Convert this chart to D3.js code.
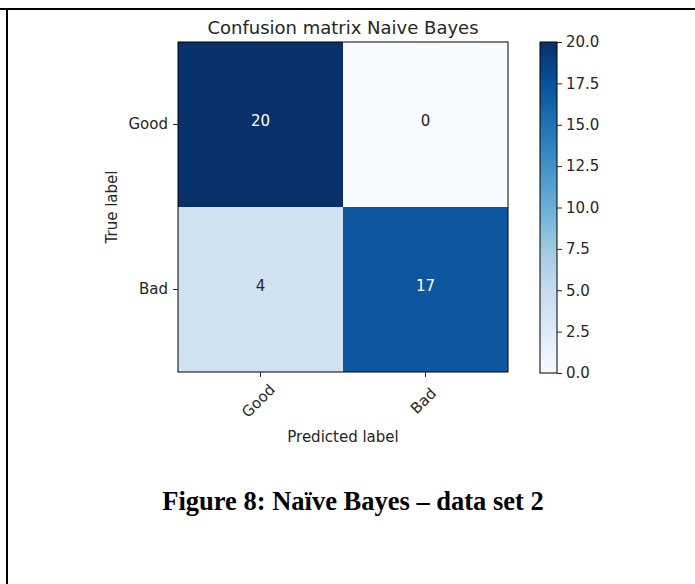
<!DOCTYPE html>
<html>
<head>
<meta charset="utf-8">
<script src="https://cdn.jsdelivr.net/npm/d3@7"></script>
<style>
  html, body { margin: 0; padding: 0; background: #fff; }
  svg { display: block; }
</style>
</head>
<body>
<svg id="chart" width="695" height="584"></svg>
<script>
// Confusion matrix values (rows = true label, columns = predicted label)
const classes = ["Good", "Bad"];
const matrixGood = [20, 0];
const matrixBad = [4, 17];
const colorbarTicks = [0, 2.5, 5, 7.5, 10, 12.5, 15, 17.5, 20];
const chartTitle = "Confusion matrix Naive Bayes";
const caption = "Figure 8: Naïve Bayes – data set 2";

const matrix = [matrixGood, matrixBad];
const cells = [];
matrix.forEach((row, i) => row.forEach((v, j) => cells.push({ row: classes[i], col: classes[j], value: v })));

const svg = d3.select("#chart");
const W = 695, H = 584;

// page frame (top rule and left rule)
svg.append("line").attr("x1", 0).attr("x2", W).attr("y1", 9).attr("y2", 9)
  .attr("stroke", "#000").attr("stroke-width", 2);
svg.append("line").attr("x1", 7).attr("x2", 7).attr("y1", 8).attr("y2", H)
  .attr("stroke", "#000").attr("stroke-width", 2);

const plot = { left: 178, top: 42, size: 330 };
const fontSans = "'DejaVu Sans', sans-serif";
const textCol = "#262626";

// matplotlib "Blues": linear segments through the ColorBrewer stops
const bluesStops = ["#f7fbff","#deebf7","#c6dbef","#9ecae1","#6baed6","#4292c6","#2171b5","#08519c","#08306b"];
const vmax = d3.max(cells, d => d.value);
const color = d3.scaleLinear()
  .domain(bluesStops.map((_, i) => vmax * i / (bluesStops.length - 1)))
  .range(bluesStops)
  .interpolate(d3.interpolateRgb);

const x = d3.scaleBand().domain(classes).range([plot.left, plot.left + plot.size]);
const y = d3.scaleBand().domain(classes).range([plot.top, plot.top + plot.size]);

const g = svg.append("g");

g.selectAll("rect.cell").data(cells).join("rect")
  .attr("class", "cell")
  .attr("x", d => x(d.col)).attr("y", d => y(d.row))
  .attr("width", x.bandwidth()).attr("height", y.bandwidth())
  .attr("fill", d => color(d.value));

const thresh = vmax / 2;
g.selectAll("text.val").data(cells).join("text")
  .attr("class", "val")
  .attr("x", d => x(d.col) + x.bandwidth() / 2)
  .attr("y", d => y(d.row) + y.bandwidth() / 2 - 4)
  .attr("text-anchor", "middle").attr("dominant-baseline", "central")
  .attr("font-family", fontSans).attr("font-size", 15)
  .attr("fill", d => d.value > thresh ? "#fff" : textCol)
  .text(d => d.value);

// frame around the matrix
g.append("rect").attr("x", plot.left).attr("y", plot.top)
  .attr("width", plot.size).attr("height", plot.size)
  .attr("fill", "none").attr("stroke", "#000").attr("stroke-width", 1);

// y axis
const yAxis = g.append("g").attr("transform", `translate(${plot.left},0)`)
  .call(d3.axisLeft(y).tickSize(5).tickPadding(5));
yAxis.select(".domain").remove();
yAxis.selectAll("text").attr("font-family", fontSans).attr("font-size", 15).attr("fill", textCol);
yAxis.selectAll("line").attr("stroke", textCol);

// x axis with rotated labels
const xAxis = g.append("g").attr("transform", `translate(0,${plot.top + plot.size})`)
  .call(d3.axisBottom(x).tickSize(5).tickPadding(0));
xAxis.select(".domain").remove();
xAxis.selectAll("line").attr("stroke", textCol);
xAxis.selectAll("text")
  .attr("font-family", fontSans).attr("font-size", 15).attr("fill", textCol)
  .attr("text-anchor", "middle").attr("dy", null).attr("y", null)
  .attr("dominant-baseline", "central")
  .attr("transform", "translate(-2,29) rotate(-45)");

// axis titles
svg.append("text").attr("x", plot.left + plot.size / 2).attr("y", 34)
  .attr("text-anchor", "middle").attr("font-family", fontSans).attr("font-size", 18)
  .attr("fill", textCol).text(chartTitle);
svg.append("text").attr("x", plot.left + plot.size / 2).attr("y", 442)
  .attr("text-anchor", "middle").attr("font-family", fontSans).attr("font-size", 15)
  .attr("fill", textCol).text("Predicted label");
svg.append("text").attr("transform", `translate(117,${plot.top + plot.size / 2}) rotate(-90)`)
  .attr("text-anchor", "middle").attr("font-family", fontSans).attr("font-size", 15)
  .attr("fill", textCol).text("True label");

// colorbar
const cb = { left: 540, width: 17, top: 42, bottom: 373 };
const cbScale = d3.scaleLinear().domain([0, vmax]).range([cb.bottom, cb.top]);
const defs = svg.append("defs");
const grad = defs.append("linearGradient").attr("id", "cbgrad")
  .attr("x1", 0).attr("y1", 1).attr("x2", 0).attr("y2", 0);
bluesStops.forEach((c, i) => grad.append("stop")
  .attr("offset", i / (bluesStops.length - 1)).attr("stop-color", c));
svg.append("rect").attr("x", cb.left).attr("y", cb.top)
  .attr("width", cb.width).attr("height", cb.bottom - cb.top)
  .attr("fill", "url(#cbgrad)").attr("stroke", "#000").attr("stroke-width", 1);
const cbAxis = svg.append("g").attr("transform", `translate(${cb.left + cb.width},0)`)
  .call(d3.axisRight(cbScale).tickValues(colorbarTicks).tickFormat(d3.format(".1f")).tickSize(5).tickPadding(4));
cbAxis.select(".domain").remove();
cbAxis.selectAll("line").attr("stroke", textCol);
cbAxis.selectAll("text").attr("font-family", fontSans).attr("font-size", 15).attr("fill", textCol);

// figure caption
svg.append("text").attr("x", 353).attr("y", 510)
  .attr("text-anchor", "middle").attr("font-family", "'Liberation Serif', 'Times New Roman', serif")
  .attr("font-weight", "bold").attr("font-size", 26.5).attr("fill", "#000").text(caption);
</script>
</body>
</html>
